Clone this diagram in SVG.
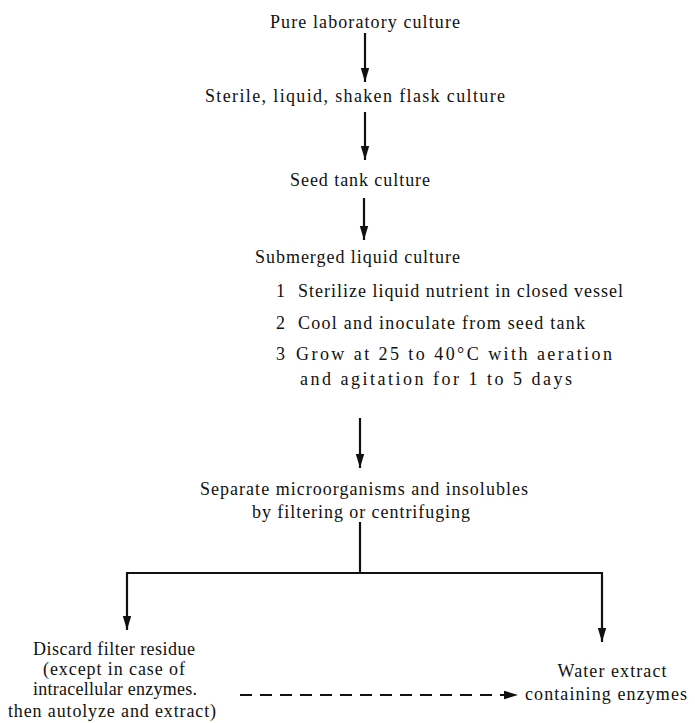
<svg xmlns="http://www.w3.org/2000/svg" width="695" height="723" viewBox="0 0 695 723">
<style>
text{font-family:"Liberation Serif","Times New Roman",serif;font-size:18px;fill:#111}
.c{text-anchor:middle}
.ln{stroke:#111;stroke-width:2.2;fill:none}
.dash{stroke:#111;stroke-width:2.2;fill:none;stroke-dasharray:12 8}
</style>
<defs>
<marker id="ah" markerUnits="userSpaceOnUse" markerWidth="16" markerHeight="12" viewBox="0 0 16 12" refX="15" refY="6" orient="auto">
<path d="M1,1.8 L15,6 L1,10.2 Z" fill="#111"/>
</marker>
</defs>
<rect width="695" height="723" fill="#fff"/>
<g id="connectors">
<line class="ln" x1="365" y1="33" x2="365" y2="82" marker-end="url(#ah)"/>
<line class="ln" x1="365" y1="112" x2="365" y2="160" marker-end="url(#ah)"/>
<line class="ln" x1="364" y1="198" x2="364" y2="240" marker-end="url(#ah)"/>
<line class="ln" x1="360" y1="418" x2="360" y2="468" marker-end="url(#ah)"/>
<line class="ln" x1="360" y1="522" x2="360" y2="573"/>
<line class="ln" x1="126" y1="573" x2="603" y2="573"/>
<line class="ln" x1="127" y1="573" x2="127" y2="630" marker-end="url(#ah)"/>
<line class="ln" x1="602" y1="573" x2="602" y2="642" marker-end="url(#ah)"/>
<line class="dash" x1="240" y1="695" x2="518" y2="695" marker-end="url(#ah)"/>
</g>
<g id="n1"><text class="c" x="365" y="28" textLength="190" lengthAdjust="spacing">Pure laboratory culture</text></g>
<g id="n2"><text class="c" x="355" y="102" textLength="300" lengthAdjust="spacing">Sterile, liquid, shaken flask culture</text></g>
<g id="n3"><text class="c" x="360" y="186" textLength="140" lengthAdjust="spacing">Seed tank culture</text></g>
<g id="n4">
<text x="255" y="263" textLength="205" lengthAdjust="spacing">Submerged liquid culture</text>
<text x="276" y="297">1</text>
<text x="298" y="297" textLength="325" lengthAdjust="spacing">Sterilize liquid nutrient in closed vessel</text>
<text x="276" y="329">2</text>
<text x="298" y="329" textLength="287" lengthAdjust="spacing">Cool and inoculate from seed tank</text>
<text x="276" y="360">3</text>
<text x="296" y="360" textLength="316" lengthAdjust="spacing">Grow at 25 to 40°C with aeration</text>
<text x="300" y="385" textLength="272" lengthAdjust="spacing">and agitation for 1 to 5 days</text>
</g>
<g id="n5">
<text class="c" x="364" y="495" textLength="328" lengthAdjust="spacing">Separate microorganisms and insolubles</text>
<text class="c" x="361" y="518" textLength="218" lengthAdjust="spacing">by filtering or centrifuging</text>
</g>
<g id="n6">
<text class="c" x="114" y="655" textLength="162" lengthAdjust="spacing">Discard filter residue</text>
<text class="c" x="114" y="675" textLength="142" lengthAdjust="spacing">(except in case of</text>
<text class="c" x="115" y="695" textLength="164" lengthAdjust="spacing">intracellular enzymes.</text>
<text class="c" x="112" y="717" textLength="208" lengthAdjust="spacing">then autolyze and extract)</text>
</g>
<g id="n7">
<text class="c" x="612" y="677" textLength="109" lengthAdjust="spacing">Water extract</text>
<text class="c" x="606" y="700" textLength="162" lengthAdjust="spacing">containing enzymes</text>
</g>
</svg>
